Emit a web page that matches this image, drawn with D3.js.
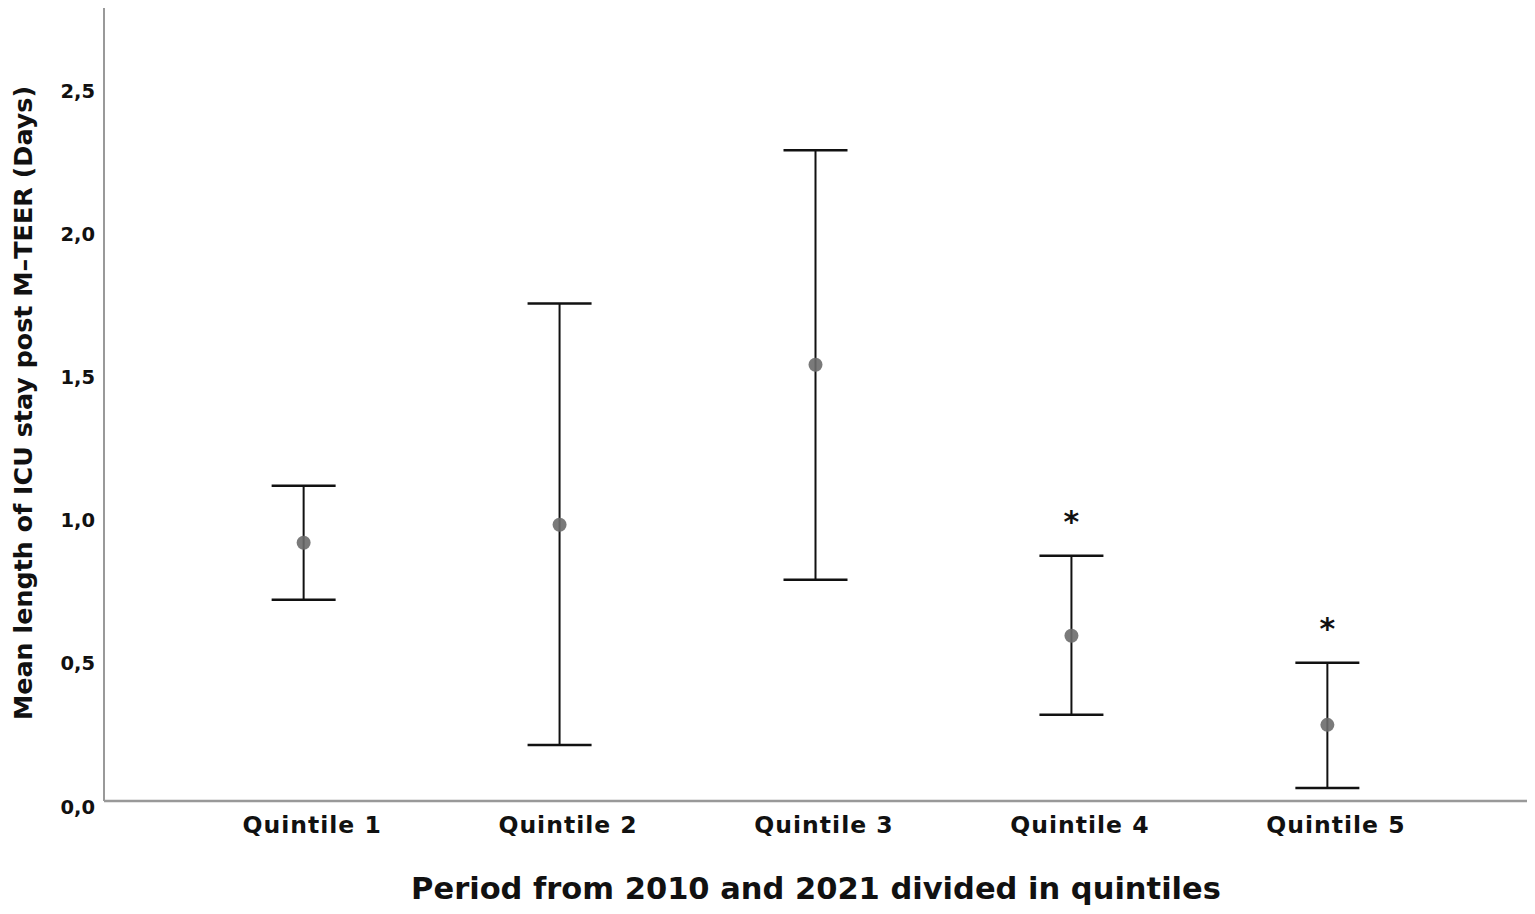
<!DOCTYPE html>
<html>
<head>
<meta charset="utf-8">
<script src="https://cdn.jsdelivr.net/npm/d3@7"></script>
<style>
  body { margin: 0; background: #fff; }
  text { font-family: "DejaVu Sans", sans-serif; font-weight: bold; fill: #111; }
</style>
</head>
<body>
<div id="container"></div>
<script>
var width = 1535,
    height = 914;

// data
var categories = ['Quintile 1', 'Quintile 2', 'Quintile 3', 'Quintile 4', 'Quintile 5'];
var means = [0.902, 0.965, 1.524, 0.577, 0.266];
var lower = [0.703, 0.196, 0.773, 0.301, 0.045];
var upper = [1.101, 1.738, 2.273, 0.857, 0.483];
var significant = [false, false, false, true, true];
var yTicks = [0, 0.5, 1, 1.5, 2, 2.5];

var svg = d3.select('#container').append('svg')
    .attr('width', width)
    .attr('height', height);

var x = d3.scalePoint()
    .domain(categories)
    .range([104, 1527])
    .padding(0.78);

var y = d3.scaleLinear()
    .domain([0, 2.77])
    .range([801, 8]);

var fmt = function(d) { return d3.format('.1f')(d).replace('.', ','); };

// y axis
var yAxis = svg.append('g')
    .attr('transform', 'translate(104,0)')
    .call(d3.axisLeft(y).tickValues(yTicks).tickSize(0).tickPadding(9).tickFormat(fmt));
yAxis.select('.domain').remove();
yAxis.selectAll('text')
    .style('font-size', '19.5px')
    .attr('dy', '0.62em')
    .attr('fill', '#111');

// x axis
var xAxis = svg.append('g')
    .attr('transform', 'translate(0,801)')
    .call(d3.axisBottom(x).tickSize(0).tickPadding(15));
xAxis.select('.domain').remove();
xAxis.selectAll('text')
    .style('font-size', '23.5px')
    .style('letter-spacing', '1px')
    .attr('dx', 8)
    .attr('fill', '#111');

// axis lines
svg.append('line')
    .attr('x1', 104).attr('x2', 104)
    .attr('y1', y.range()[1]).attr('y2', y(0))
    .style('stroke', '#999').style('stroke-width', '2px');
svg.append('line')
    .attr('x1', 104).attr('x2', x.range()[1])
    .attr('y1', y(0)).attr('y2', y(0))
    .style('stroke', '#999').style('stroke-width', '2.5px');

var rows = categories.map(function(c, i) {
  return { cat: c, mean: means[i], lo: lower[i], hi: upper[i], sig: significant[i] };
});

var g = svg.selectAll('.bar')
    .data(rows)
    .enter()
    .append('g')
    .attr('class', 'bar');

g.append('line')
    .attr('x1', function(d) { return x(d.cat); })
    .attr('x2', function(d) { return x(d.cat); })
    .attr('y1', function(d) { return y(d.hi); })
    .attr('y2', function(d) { return y(d.lo); })
    .style('stroke', '#111').style('stroke-width', '2px');

g.selectAll('.cap')
    .data(function(d) { return [{ cat: d.cat, v: d.hi }, { cat: d.cat, v: d.lo }]; })
    .enter()
    .append('line')
    .attr('class', 'cap')
    .attr('x1', function(d) { return x(d.cat) - 32; })
    .attr('x2', function(d) { return x(d.cat) + 32; })
    .attr('y1', function(d) { return y(d.v); })
    .attr('y2', function(d) { return y(d.v); })
    .style('stroke', '#111').style('stroke-width', '2.5px');

g.append('circle')
    .attr('cx', function(d) { return x(d.cat); })
    .attr('cy', function(d) { return y(d.mean); })
    .attr('r', 7)
    .style('fill', '#6b6b6b')
    .style('opacity', 0.9);

g.filter(function(d) { return d.sig; })
    .append('text')
    .attr('x', function(d) { return x(d.cat); })
    .attr('y', function(d) { return y(d.hi) - 46; })
    .attr('dy', '0.75em')
    .attr('text-anchor', 'middle')
    .style('font-size', '30px')
    .text('*');

// axis titles
svg.append('text')
    .attr('x', 816)
    .attr('y', 899)
    .attr('text-anchor', 'middle')
    .style('font-size', '30.5px')
    .text('Period from 2010 and 2021 divided in quintiles');

svg.append('text')
    .attr('transform', 'translate(32,403) rotate(-90)')
    .attr('text-anchor', 'middle')
    .style('font-size', '25.4px')
    .text('Mean length of ICU stay post M\u2013TEER (Days)');
</script>
</body>
</html>
